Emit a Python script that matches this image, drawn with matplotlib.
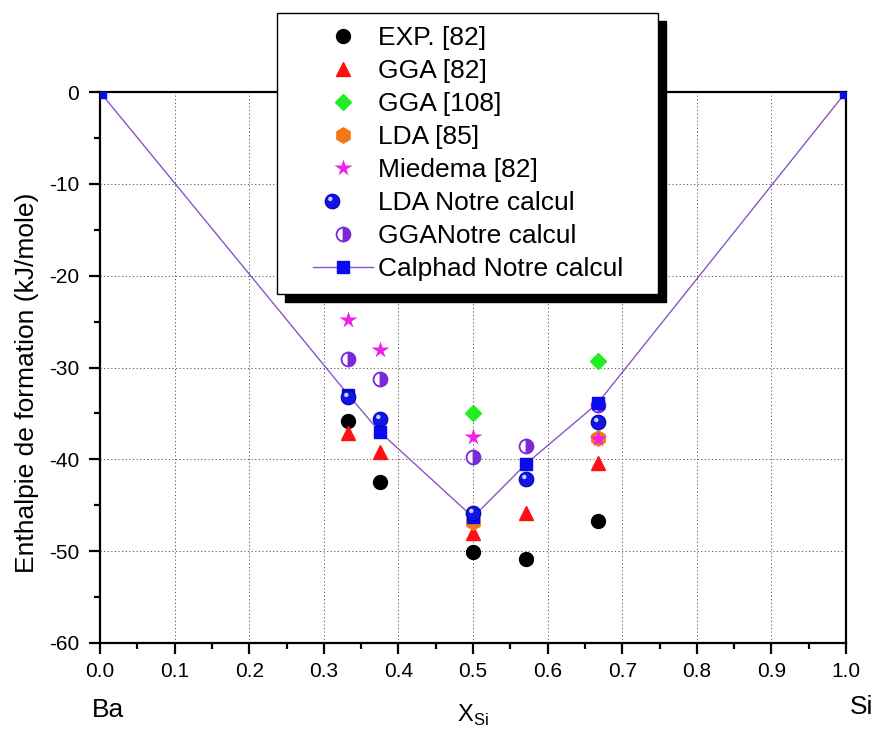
import matplotlib
matplotlib.use('Agg')
import matplotlib.pyplot as plt
from matplotlib.patches import Rectangle
from matplotlib.path import Path
from matplotlib.lines import Line2D
from matplotlib.legend_handler import HandlerTuple, HandlerLine2D
import numpy as np

plt.rcParams['font.family'] = ['Liberation Sans', 'DejaVu Sans']
plt.rcParams['axes.unicode_minus'] = False
plt.rcParams['mathtext.fontset'] = 'custom'
plt.rcParams['mathtext.rm'] = 'Liberation Sans'

# compositions (X_Si)
x_exp = [0.333, 0.375, 0.5, 0.571, 0.667]
exp_82 = [-35.8, -42.5, -50.1, -50.9, -46.7]
gga_82 = [-37.1, -39.2, -48.0, -45.8, -40.4]
x_gga108 = [0.5, 0.667]
gga_108 = [-35.0, -29.3]
x_lda85 = [0.5, 0.667]
lda_85 = [-46.8, -37.7]
x_mied = [0.333, 0.375, 0.5, 0.667]
miedema = [-24.8, -28.1, -37.6, -37.8]
lda_notre = [-33.2, -35.6, -45.8, -42.1, -35.9]
gga_notre = [-29.1, -31.2, -39.8, -38.5, -34.1]
x_calphad = [0.0, 0.333, 0.375, 0.5, 0.571, 0.667, 1.0]
calphad = [0.0, -33.0, -37.0, -46.3, -40.5, -33.9, 0.0]

# small highlight spot for the "sphere" markers (offset up-left)
spot = Path.unit_circle().transformed(
    matplotlib.transforms.Affine2D().scale(0.3).translate(-0.3, 0.35))
frame_pts = Path([(1, 1), (-1, -1)], [Path.MOVETO, Path.MOVETO])
spot_marker = Path.make_compound_path(spot, frame_pts)

fig = plt.figure(figsize=(8.76, 7.34), dpi=100)
ax = fig.add_axes([100 / 876, 1 - 643 / 734, 746 / 876, 551 / 734])

ms = 10
line_col = '#8a55c8'
ax.plot(x_calphad, calphad, color=line_col, lw=1.0, zorder=3)
h_exp, = ax.plot(x_exp, exp_82, 'o', color='black', ms=ms, zorder=4)
h_gga82, = ax.plot(x_exp, gga_82, '^', color='#ff1010', ms=ms, zorder=4)
h_gga108, = ax.plot(x_gga108, gga_108, 'D', color='#22ee22', ms=ms - 1.5, zorder=4)
h_lda85, = ax.plot(x_lda85, lda_85, 'h', color='#f07818', ms=ms + 1, zorder=4)
h_gga, = ax.plot(x_exp, gga_notre, 'o', ms=ms, fillstyle='right', mfc='#7a28d8',
                 mfcalt='white', mec='#7a28d8', mew=1.3, zorder=4)
h_cal, = ax.plot(x_calphad, calphad, 's', color='#0a0af0', ms=8.5, zorder=5)
h_lda, = ax.plot(x_exp, lda_notre, 'o', color='#1414e6', mec='#0000b0', mew=0.8,
                 ms=ms + 0.5, zorder=6)
h_lda_hl, = ax.plot(x_exp, lda_notre, ls='none', marker=spot_marker, color='#c8d4ff',
                    mec='none', ms=ms + 0.5, zorder=6)
h_mied, = ax.plot(x_mied, miedema, '*', color='#f020e8', ms=ms + 3, mec='none', zorder=7)

ax.set_xlim(0, 1)
ax.set_ylim(-60, 0)
ax.set_xticks(np.arange(0, 1.01, 0.1))
ax.set_xticks(np.arange(0.05, 1.0, 0.1), minor=True)
ax.set_yticks(np.arange(-60, 1, 10))
ax.set_yticks(np.arange(-55, 0, 10), minor=True)
ax.grid(True, which='major', ls=(0, (1.2, 2.5)), color='#555555', lw=0.7)
for s in ax.spines.values():
    s.set_linewidth(1.6)
ax.tick_params(which='major', direction='out', length=8, width=1.6, labelsize=15,
               top=False, right=False)
ax.tick_params(axis='x', which='major', pad=6)
ax.tick_params(axis='y', which='major', pad=7)
ax.tick_params(which='minor', direction='out', length=4.5, width=1.6, top=False, right=False)
ax.set_ylabel('Enthalpie de formation (kJ/mole)', fontsize=19)
ax.yaxis.set_label_coords(-0.082, 0.472)

fig.text(473 / 876, 1 - 722 / 734, r'X$_{\mathregular{Si}}$', fontsize=17,
         ha='center', va='baseline')
fig.text(108 / 876, 1 - 717 / 734, 'Ba', fontsize=19, ha='center', va='baseline')
fig.text(862 / 876, 1 - 714 / 734, 'Si', fontsize=19, ha='center', va='baseline')

# legend handle for calphad: line + square
cal_handle = Line2D([], [], color=line_col, lw=1.0, marker='s', ms=8.5,
                    mfc='#0a0af0', mec='#0a0af0')

handles = [h_exp, h_gga82, h_gga108, h_lda85, h_mied, (h_lda, h_lda_hl), h_gga, cal_handle]
labels = ['EXP. [82]', 'GGA [82]', 'GGA [108]', 'LDA [85]', 'Miedema [82]',
          'LDA Notre calcul', 'GGANotre calcul', 'Calphad Notre calcul']
leg_x0, leg_x1, leg_top = 277 / 876, 658 / 876, 1 - 13 / 734
leg = fig.legend(handles, labels, loc='upper left',
                 bbox_to_anchor=(leg_x0, 0.5, leg_x1 - leg_x0, leg_top - 0.5),
                 mode='expand', borderaxespad=0,
                 fontsize=19, frameon=True, fancybox=False, edgecolor='black',
                 framealpha=1, borderpad=0.5, labelspacing=0.34, handlelength=3.14,
                 handletextpad=0.2, numpoints=1,
                 handler_map={Line2D: HandlerLine2D(xpad=0.87),
                              tuple: HandlerTuple(ndivide=1, pad=0)})
leg.get_frame().set_linewidth(1.0)
leg.set_zorder(10)

fig.canvas.draw()
bb = leg.get_window_extent().transformed(fig.transFigure.inverted())
dx, dy = 8 / 876, 8 / 734
fig.patches.append(Rectangle((bb.x0 + dx, bb.y0 - dy), bb.width, bb.height,
                             transform=fig.transFigure, color='black', zorder=9))

fig.savefig('out.png', dpi=100)
